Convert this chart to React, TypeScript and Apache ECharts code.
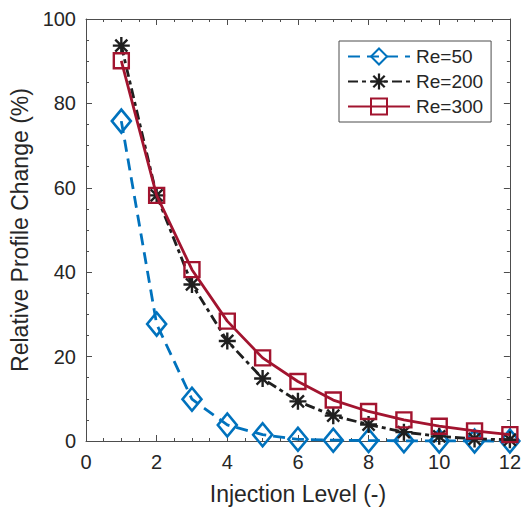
import React, { useEffect, useRef } from "react";
import * as echarts from "echarts";

const injectionLevels = [1, 2, 3, 4, 5, 6, 7, 8, 9, 10, 11, 12];
const re50 = [75.8, 27.7, 9.9, 3.8, 1.5, 0.4, 0.2, 0.1, 0.05, 0.02, 0.01, 0.0];
const re200 = [93.7, 58.2, 37.1, 23.7, 14.8, 9.4, 6.0, 3.9, 2.1, 1.1, 0.5, 0.3];
const re300 = [90.1, 58.2, 40.6, 28.4, 19.7, 14.1, 9.7, 7.0, 5.0, 3.5, 2.4, 1.5];
const seriesNames = ["Re=50", "Re=200", "Re=300"];

const ASTERISK =
  "path://M-1.4,-10 L1.4,-10 L1.4,10 L-1.4,10 Z " +
  "M-10,-1.4 L10,-1.4 L10,1.4 L-10,1.4 Z " +
  "M-6.1,-8.1 L8.1,6.1 L6.1,8.1 L-8.1,-6.1 Z " +
  "M6.1,-8.1 L8.1,-6.1 L-6.1,8.1 L-8.1,6.1 Z";

const FONT = "Liberation Sans, Arial, Helvetica, sans-serif";
const TEXT = "#262626";
const AXIS = "#4d4d4d";

export default function App() {
  const ref = useRef<HTMLDivElement>(null);
  useEffect(() => {
    if (!ref.current) return;
    const chart = echarts.init(ref.current, undefined, { renderer: "svg" });
    const pairs = (vals: number[]) => injectionLevels.map((x, i) => [x, vals[i]]);
    const axisCommon = {
      type: "value" as const,
      axisLine: { show: true, onZero: false, lineStyle: { color: AXIS, width: 1 } },
      axisTick: { show: true, inside: true, length: 6, lineStyle: { color: AXIS } },
      minorTick: { show: true, splitNumber: 4, length: 3, lineStyle: { color: AXIS } },
      splitLine: { show: false },
    };
    chart.setOption({
      animation: false,
      backgroundColor: "#ffffff",
      textStyle: { fontFamily: FONT },
      grid: { left: 86, right: 9, top: 19, bottom: 64, containLabel: false },
      legend: {
        orient: "vertical",
        left: 339,
        top: 41,
        padding: [6, 8, 6, 8],
        itemGap: 6,
        itemWidth: 62,
        itemHeight: 20,
        backgroundColor: "#ffffff",
        borderColor: AXIS,
        borderWidth: 1,
        borderRadius: 0,
        data: seriesNames,
        textStyle: { fontSize: 19, color: TEXT, fontFamily: FONT, padding: [0, 0, 0, 1] },
      },
      xAxis: [
        {
          ...axisCommon,
          min: 0,
          max: 12,
          interval: 2,
          position: "bottom",
          name: "Injection Level (-)",
          nameLocation: "middle",
          nameGap: 41,
          nameTextStyle: { fontSize: 23, color: TEXT, fontFamily: FONT },
          axisLabel: { fontSize: 20, color: TEXT, margin: 11, fontFamily: FONT },
        },
        {
          ...axisCommon,
          min: 0,
          max: 12,
          interval: 2,
          position: "top",
          axisLabel: { show: false },
        },
      ],
      yAxis: [
        {
          ...axisCommon,
          min: 0,
          max: 100,
          interval: 20,
          position: "left",
          name: "Relative Profile Change (%)",
          nameLocation: "middle",
          nameGap: 51,
          nameTextStyle: { fontSize: 23, color: TEXT, fontFamily: FONT },
          axisLabel: { fontSize: 20, color: TEXT, margin: 10, fontFamily: FONT },
        },
        {
          ...axisCommon,
          min: 0,
          max: 100,
          interval: 20,
          position: "right",
          axisLabel: { show: false },
        },
      ],
      series: [
        {
          name: seriesNames[0],
          type: "line",
          data: pairs(re50),
          clip: false,
          symbol: "diamond",
          symbolSize: [19, 23],
          itemStyle: { color: "transparent", borderColor: "#0072BD", borderWidth: 2.6 },
          lineStyle: { color: "#0072BD", width: 2.8, type: [12, 7] },
          z: 2,
        },
        {
          name: seriesNames[1],
          type: "line",
          data: pairs(re200),
          clip: false,
          symbol: ASTERISK,
          symbolSize: 17,
          itemStyle: { color: "#1f1f1f" },
          lineStyle: { color: "#1f1f1f", width: 2.8, type: [10, 4, 4, 4] },
          z: 3,
        },
        {
          name: seriesNames[2],
          type: "line",
          data: pairs(re300),
          clip: false,
          symbol: "rect",
          symbolSize: 15,
          itemStyle: { color: "transparent", borderColor: "#A2142F", borderWidth: 2.4 },
          lineStyle: { color: "#A2142F", width: 2.8, type: "solid" },
          z: 4,
        },
      ],
    });
    return () => chart.dispose();
  }, []);
  return (
    <div
      ref={ref}
      style={{ position: "absolute", left: 0, top: 0, width: 524, height: 510, background: "#fff" }}
    />
  );
}
